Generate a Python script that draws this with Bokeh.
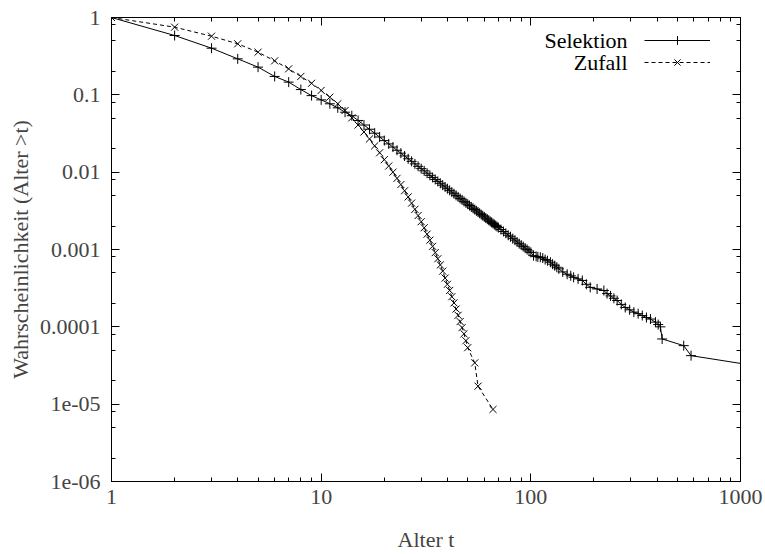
from bokeh.plotting import figure
from bokeh.models import Range1d, FixedTicker, LogAxis, Legend, LegendItem, Label
from bokeh.embed import file_html
from bokeh.resources import INLINE

# ---------------- data ----------------
sel_t = [1, 2, 3, 4, 5, 6, 7, 8, 9, 10, 11, 12, 13, 14, 15, 16, 17, 18, 19, 20,
         21, 22, 23, 24, 25, 26, 27, 28, 29, 30, 31, 32, 33, 34, 35, 36, 37, 38, 39, 40,
         41, 42, 43, 44, 45, 46, 47, 48, 49, 50, 51, 52, 53, 54, 55, 56, 57, 58, 59, 60,
         61, 62, 63, 64, 65, 66, 67, 68, 69, 70, 72, 74, 76, 78, 80, 82, 84, 86, 88, 90,
         92, 94, 96, 98, 100, 103, 106, 108, 111, 114, 117, 120, 124, 127, 130, 133, 136,
         142, 149, 155, 160, 168, 176, 184, 192, 207, 223, 231, 240, 249, 258, 270, 282,
         296, 310, 325, 340, 356, 372, 393, 405, 415, 423, 536, 581, 1620]
sel_p = [1.0, 0.585, 0.401, 0.292, 0.228, 0.173, 0.146, 0.117, 0.0977, 0.0861,
         0.0766, 0.0679, 0.0596, 0.0537, 0.0466, 0.0407, 0.0359, 0.0319, 0.0285, 0.0256,
         0.0232, 0.0211, 0.0192, 0.0176, 0.0162, 0.0149, 0.0138, 0.0128, 0.0119, 0.0111,
         0.0104, 0.0097, 0.0091, 0.00855, 0.00805, 0.0076, 0.00718, 0.00679, 0.00644, 0.00611,
         0.00581, 0.00552, 0.00526, 0.00501, 0.00479, 0.00457, 0.00438, 0.00419, 0.00402, 0.00385,
         0.00370, 0.00355, 0.00341, 0.00328, 0.00316, 0.00305, 0.00294, 0.00283, 0.00273, 0.00264,
         0.00255, 0.00247, 0.00239, 0.00231, 0.00224, 0.00217, 0.00210, 0.00204, 0.00198, 0.00192,
         0.00181, 0.00171, 0.00162, 0.00153, 0.00146, 0.00138, 0.00132, 0.00125, 0.00119, 0.00114,
         0.00109, 0.00104, 0.000998, 0.000957, 0.000917, 0.000832, 0.000813, 0.000804, 0.000794,
         0.000776, 0.000741, 0.000716, 0.000684, 0.000646, 0.000617, 0.000589, 0.000562,
         0.000513, 0.000479, 0.000457, 0.000437, 0.000417, 0.000398, 0.000355, 0.000324,
         0.000309, 0.000295, 0.000269, 0.000251, 0.000234, 0.000219, 0.000195, 0.000178,
         0.000166, 0.000155, 0.000148, 0.000140, 0.000132, 0.000126, 0.000115, 0.000107,
         0.000100, 0.0000697, 0.0000571, 0.0000424, 0.0000274]

zuf_t = [1, 2, 3, 4, 5, 6, 7, 8, 9, 10, 11, 12, 13, 14, 15, 16, 17, 18, 19, 20,
         21, 22, 23, 24, 25, 26, 27, 28, 29, 30, 31, 32, 33, 34, 35, 36, 37, 38, 39, 40,
         41, 42, 43, 44, 45, 46, 47, 48, 49, 50, 54, 56, 66]
zuf_p = [1.0, 0.75, 0.573, 0.457, 0.356, 0.275, 0.217, 0.173, 0.141, 0.114,
         0.0933, 0.0766, 0.0627, 0.0504, 0.0407, 0.0331, 0.0269, 0.0219, 0.0178, 0.0145,
         0.0120, 0.0100, 0.00832, 0.00692, 0.00575, 0.00479, 0.00398, 0.00331, 0.00275, 0.00229,
         0.00191, 0.00158, 0.00132, 0.00110, 0.000912, 0.000759, 0.000631, 0.000525, 0.000427, 0.000355,
         0.000295, 0.000245, 0.000204, 0.000170, 0.000141, 0.000117, 0.0000977, 0.0000813, 0.0000661,
         0.0000537, 0.0000342, 0.0000171, 0.00000855]

series_names = ["Selektion", "Zufall"]
x_ticks = [1, 10, 100, 1000]
x_tick_labels = ["1", "10", "100", "1000"]
y_ticks = [1e-6, 1e-5, 1e-4, 1e-3, 1e-2, 1e-1, 1]
y_tick_labels = ["1e-06", "1e-05", "0.0001", "0.001", "0.01", "0.1", "1"]
x_label = "Alter t"
y_label = "Wahrscheinlichkeit (Alter >t)"

# ---------------- styling ----------------
FONT = "Liberation Serif"
FS = "22px"

x_minor = [m * d for d in (1, 10, 100) for m in range(2, 10)]
y_minor = [m * d for d in (1e-6, 1e-5, 1e-4, 1e-3, 1e-2, 1e-1) for m in (2, 5, 8)]

p = figure(width=765, height=554, x_axis_type="log", y_axis_type="log",
           x_range=Range1d(1, 1000), y_range=Range1d(1e-6, 1),
           output_backend="svg", toolbar_location=None,
           min_border_left=111, min_border_right=25, min_border_top=17,
           min_border_bottom=73)
p.grid.visible = False
p.outline_line_color = "black"
p.outline_line_width = 1
p.background_fill_color = "white"
p.border_fill_color = "white"

xt = FixedTicker(ticks=x_ticks, minor_ticks=x_minor)
yt = FixedTicker(ticks=y_ticks, minor_ticks=y_minor)

for ax, tk, labs, lab in ((p.xaxis[0], xt, x_tick_labels, x_label),
                          (p.yaxis[0], yt, y_tick_labels, y_label)):
    ax.ticker = tk
    ax.major_label_overrides = dict(zip(tk.ticks, labs))
    ax.axis_label = lab
    ax.axis_label_text_font = FONT
    ax.axis_label_text_font_size = FS
    ax.axis_label_text_font_style = "normal"
    ax.major_label_text_font = FONT
    ax.major_label_text_font_size = FS
    ax.major_tick_in = 8
    ax.major_tick_out = 0
    ax.minor_tick_in = 4
    ax.minor_tick_out = 0
    ax.axis_line_color = "black"

p.xaxis[0].major_label_standoff = 8
p.xaxis[0].axis_label_standoff = 20
p.yaxis[0].major_label_standoff = 11
p.yaxis[0].axis_label_standoff = 4

for side, tk in (("above", xt), ("right", yt)):
    ax = LogAxis(ticker=tk, major_label_text_font_size="2px", major_label_standoff=0,
                 major_label_text_color=None,
                 major_tick_in=8, major_tick_out=0, minor_tick_in=4, minor_tick_out=0,
                 axis_line_color=None)
    p.add_layout(ax, side)

# ---------------- series ----------------
l1 = p.line(sel_t, sel_p, line_color="black", line_width=1)
s1 = p.scatter(sel_t, sel_p, marker="cross", size=10, line_color="black", line_width=1)
l2 = p.line(zuf_t, zuf_p, line_color="black", line_width=1, line_dash="4 3")
s2 = p.scatter(zuf_t, zuf_p, marker="x", size=10, line_color="black", line_width=1)

legend = Legend(items=[LegendItem(label=" ", renderers=[l1, s1]),
                       LegendItem(label=" ", renderers=[l2, s2])],
                location=(533, 408), orientation="vertical",
                glyph_width=66, glyph_height=22, label_height=22, label_width=2,
                label_standoff=0, spacing=0, padding=0, margin=0,
                border_line_alpha=0, background_fill_alpha=0,
                label_text_font_size="8px")
p.add_layout(legend)

for i, name in enumerate(series_names):
    p.add_layout(Label(x=516, y=441 - 22 * i, x_units="screen", y_units="screen",
                       text=name, text_align="right", text_baseline="middle",
                       text_font=FONT, text_font_size=FS, text_color="black"))

open("out.html", "w").write(file_html(p, INLINE))
